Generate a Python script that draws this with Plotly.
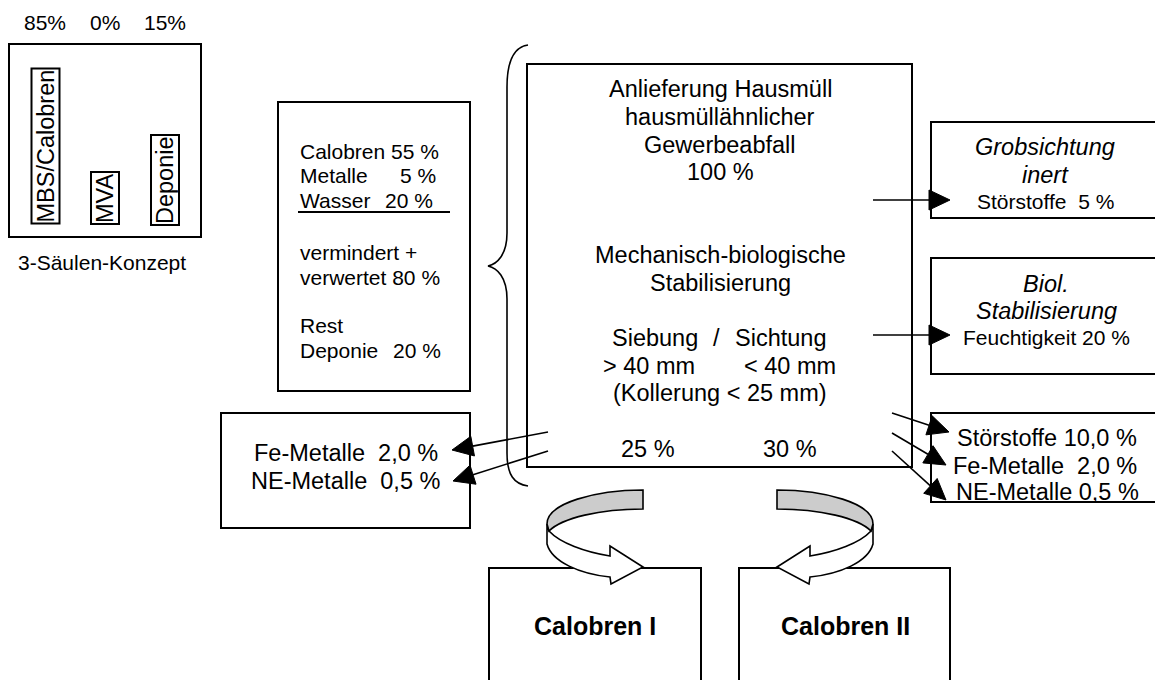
import math
import plotly.graph_objects as go

W, H = 1155, 680
FONT = "Liberation Sans, Arial, sans-serif"

# ---------------- data (text content and values) ----------------
saeulen_labels = ["MBS/Calobren", "MVA", "Deponie"]
saeulen_pct = [85, 0, 15]
saeulen_title = "3-Säulen-Konzept"

bilanz_labels = ["Calobren", "Metalle", "Wasser"]
bilanz_pct = [55, 5, 20]
vermindert_labels = ["vermindert +", "verwertet"]
vermindert_pct = 80
rest_labels = ["Rest", "Deponie"]
rest_pct = 20

input_lines = ["Anlieferung Hausmüll", "hausmüllähnlicher", "Gewerbeabfall"]
input_pct = 100
process_lines = ["Mechanisch-biologische", "Stabilisierung"]
sieb_labels = ["Siebung", "Sichtung"]
sieb_sizes = ["> 40 mm", "< 40 mm"]
koller_text = "(Kollerung < 25 mm)"
fraktion_pct = [25, 30]

grob_title = ["Grobsichtung", "inert"]
grob_label, grob_pct = "Störstoffe", 5
bio_title = ["Biol.", "Stabilisierung"]
bio_label, bio_pct = "Feuchtigkeit", 20
sieb_out_labels = ["Störstoffe", "Fe-Metalle", "NE-Metalle"]
sieb_out_pct = ["10,0", "2,0", "0,5"]
grob_out_labels = ["Fe-Metalle", "NE-Metalle"]
grob_out_pct = ["2,0", "0,5"]
produkte = ["Calobren I", "Calobren II"]

# ---------------- figure ----------------
fig = go.Figure()
shapes = []
ann = []
NB = "\u00a0"


def rect(x0, y0, x1, y1, w=2):
    shapes.append(dict(type="rect", xref="x", yref="y", x0=x0, y0=y0, x1=x1, y1=y1,
                       line=dict(color="black", width=w), fillcolor="rgba(0,0,0,0)"))


def line(x0, y0, x1, y1, w=1.6):
    shapes.append(dict(type="line", xref="x", yref="y", x0=x0, y0=y0, x1=x1, y1=y1,
                       line=dict(color="black", width=w)))


def path(d, fill="rgba(0,0,0,0)", w=1.6):
    shapes.append(dict(type="path", xref="x", yref="y", path=d,
                       line=dict(color="black", width=w), fillcolor=fill))


def text(x, y, s, size=21, xa="center", **kw):
    ann.append(dict(x=x, y=y, xref="x", yref="y", text=s, showarrow=False,
                    xanchor=xa, yanchor="middle",
                    font=dict(family=FONT, size=size, color="black"), **kw))


def arrow(x0, y0, x1, y1, L=21, hw=10):
    dx, dy = x1 - x0, y1 - y0
    n = math.hypot(dx, dy)
    ux, uy = dx / n, dy / n
    bx, by = x1 - L * ux, y1 - L * uy
    px, py = -uy, ux
    line(x0, y0, bx, by)
    d = (f"M {x1},{y1} L {bx + hw * px},{by + hw * py} "
         f"L {bx - hw * px},{by - hw * py} Z")
    path(d, fill="black", w=1)


def pct(v):
    return f"{v}{NB}%"


# --- 3-Säulen-Konzept box ---
rect(9, 44, 201, 237)
bar_x = [45, 104.5, 165]
bar_y = [146.5, 198.5, 180]
for lab, p, bx, by in zip(saeulen_labels, saeulen_pct, bar_x, bar_y):
    text(bx, by, lab, size=23.5, textangle=-90, bordercolor="black", borderwidth=2, borderpad=0)
    text(bx, 22, f"{p}%", size=21)
text(102, 262, saeulen_title, size=21)

# --- Bilanz box ---
rect(278, 102, 470, 391)
lx = 298
text(lx, 151, f"{bilanz_labels[0]} {pct(bilanz_pct[0])}", size=21, xa="left")
text(lx, 175, bilanz_labels[1], size=21, xa="left")
text(438, 175, pct(bilanz_pct[1]), size=21, xa="right")
text(lx, 200, bilanz_labels[2], size=21, xa="left")
text(435, 200, pct(bilanz_pct[2]), size=21, xa="right")
line(298, 212, 450, 212, w=2)
text(lx, 252, vermindert_labels[0], size=21, xa="left")
text(lx, 277, f"{vermindert_labels[1]} {pct(vermindert_pct)}", size=21, xa="left")
text(lx, 325, rest_labels[0], size=21, xa="left")
text(lx, 350, rest_labels[1], size=21, xa="left")
text(443, 350, pct(rest_pct), size=21, xa="right")

# --- brace ---
path("M 528,45 C 514,47 507,60 507,87 L 507,233 C 507,255 497,264 488,266 "
     "C 497,268 507,277 507,299 L 507,453 C 507,475 514,484 528,486", w=1.6)

# --- main process box ---
rect(527, 64, 912, 467)
cx = 720
for s, yy in zip(input_lines + [pct(input_pct)], [89, 117, 145, 172]):
    text(cx, yy, s, size=23.5)
for s, yy in zip(process_lines, [255, 283]):
    text(cx, yy, s, size=23.5)
text(655, 338, sieb_labels[0], size=23.5)
text(716, 338, "/", size=23.5)
text(780, 338, sieb_labels[1], size=23.5)
text(649, 366, sieb_sizes[0], size=23.5)
text(790, 366, sieb_sizes[1], size=23.5)
text(cx, 393, koller_text, size=23.5)
text(648, 449, pct(fraktion_pct[0]), size=23.5)
text(790, 449, pct(fraktion_pct[1]), size=23.5)

# --- right boxes ---
rect(931, 122, 1170, 218)
text(1045, 147, f"<i>{grob_title[0]}</i>", size=23.5)
text(1045, 175, f"<i>{grob_title[1]}</i>", size=23.5)
text(1045, 201, f"{grob_label}{NB}{NB}{pct(grob_pct)}", size=21)

rect(931, 258, 1170, 374)
text(1046, 284, f"<i>{bio_title[0]}</i>", size=23.5)
text(1046, 311, f"<i>{bio_title[1]}</i>", size=23.5)
text(1046, 337, f"{bio_label} {pct(bio_pct)}", size=21)

rect(931, 413, 1170, 502)
gaps = [" ", NB + NB, " "]
for lab, p, g, yy, xs in zip(sieb_out_labels, sieb_out_pct, gaps, [438, 466, 492], [955, 951, 954]):
    text(xs, yy, f"{lab}{g}{pct(p)}", size=23.5, xa="left")

# --- left bottom box ---
rect(221, 413, 470, 528)
for lab, p, yy, xs in zip(grob_out_labels, grob_out_pct, [453, 481], [252, 249]):
    text(xs, yy, f"{lab}{NB}{NB}{pct(p)}", size=23.5, xa="left")

# --- arrows ---
arrow(873, 200, 950, 200)
arrow(873, 335, 950, 335)
arrow(892, 413, 949, 432)
arrow(892, 433, 946, 465)
arrow(892, 451, 946, 500)
arrow(548, 432, 452, 450)
arrow(548, 451, 453, 481)

# --- product boxes ---
rect(489, 568, 701, 700)
rect(739, 568, 950, 700)
text(595, 626, f"<b>{produkte[0]}</b>", size=25)
text(845, 626, f"<b>{produkte[1]}</b>", size=25)

# --- curved arrows (left one, then mirrored) ---
gray_pts = [("M", [(643, 490)]), ("C", [(596, 490), (547, 503), (547, 524)]),
            ("L", [(549, 531)]), ("C", [(562, 518), (600, 509), (643, 509)]), ("Z", [])]
white_pts = [("M", [(547, 524)]), ("L", [(547, 544)]),
             ("C", [(552, 562), (580, 574), (610, 577)]), ("L", [(611, 584)]),
             ("L", [(643, 567)]), ("L", [(610, 546)]), ("L", [(610, 556)]),
             ("C", [(585, 552), (560, 543), (549, 531)]), ("Z", [])]


def build(pts, mirror=False):
    out = []
    for cmd, ps in pts:
        seg = [cmd]
        for (x, y) in ps:
            xx = 1420 - x if mirror else x
            seg.append(f"{xx},{y}")
        out.append(" ".join(seg))
    return " ".join(out)


for m in (False, True):
    path(build(white_pts, m), fill="white", w=1.6)
    path(build(gray_pts, m), fill="#cccccc", w=1.6)

fig.update_layout(
    width=W, height=H,
    margin=dict(l=0, r=0, t=0, b=0),
    paper_bgcolor="white", plot_bgcolor="white",
    xaxis=dict(range=[0, W], visible=False, fixedrange=True),
    yaxis=dict(range=[H, 0], visible=False, fixedrange=True),
    shapes=shapes, annotations=ann, showlegend=False,
)
fig.write_html("out.html", config={"displayModeBar": False},
               post_script="document.body.style.margin='0';document.body.style.overflow='hidden';")
